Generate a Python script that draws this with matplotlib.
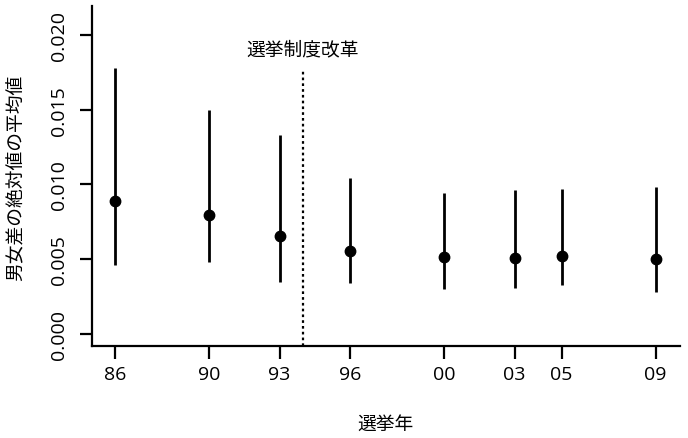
import matplotlib
matplotlib.use("Agg")
from matplotlib import pyplot as plt

plt.rcParams['font.family'] = ['Noto Sans CJK JP', 'DejaVu Sans']

# --- data ---
years = [1986, 1990, 1993, 1996, 2000, 2003, 2005, 2009]
year_labels = ['86', '90', '93', '96', '00', '03', '05', '09']
mean_diff = [0.00888, 0.00798, 0.00654, 0.00557, 0.00513, 0.00510, 0.00522, 0.00502]
upper = [0.01779, 0.01500, 0.01331, 0.01044, 0.00943, 0.00961, 0.00968, 0.00985]
lower = [0.00464, 0.00484, 0.00350, 0.00339, 0.00299, 0.00310, 0.00328, 0.00279]
y_ticks = [0.000, 0.005, 0.010, 0.015, 0.020]
reform_year = 1994

fig = plt.figure(figsize=(6.88, 4.39), dpi=100)
ax = fig.add_axes([92 / 688, 92 / 439, 588 / 688, 340 / 439])

ax.vlines(years, lower, upper, color='black', linewidth=2.0)
ax.plot(years, mean_diff, 'o', color='black', markersize=7.5)

ax.axvline(reform_year, ymin=0.0, ymax=(347 - 70) / 340, color='black',
           linewidth=1.6, linestyle=(0, (1.2, 1.4)))
ax.text(reform_year, 0.0191, '選挙制度改革', ha='center', va='center', fontsize=13.5)

ax.set_xlim(1985.02, 2010.04)
ax.set_ylim(-0.000803, 0.02194)

ax.set_xticks(years)
ax.set_xticklabels(year_labels, family='Open Sans', fontsize=14)
ax.set_yticks(y_ticks)
ax.set_yticklabels(['%.3f' % v for v in y_ticks], rotation=90, va='center',
                   family='Open Sans', fontsize=14)

ax.spines['top'].set_visible(False)
ax.spines['right'].set_visible(False)
for s in ['left', 'bottom']:
    ax.spines[s].set_linewidth(1.6)
ax.tick_params(axis='both', length=9, width=1.6)
ax.tick_params(axis='x', pad=5)
ax.tick_params(axis='y', pad=8)

fig.text(385 / 688, 1 - 424 / 439, '選挙年', ha='center', va='center', fontsize=13.5)
fig.text(16 / 688, 1 - 178 / 439, '男女差の絶対値の平均値', ha='center', va='center',
         rotation=90, fontsize=13.5)

fig.savefig('out.png', dpi=100)
